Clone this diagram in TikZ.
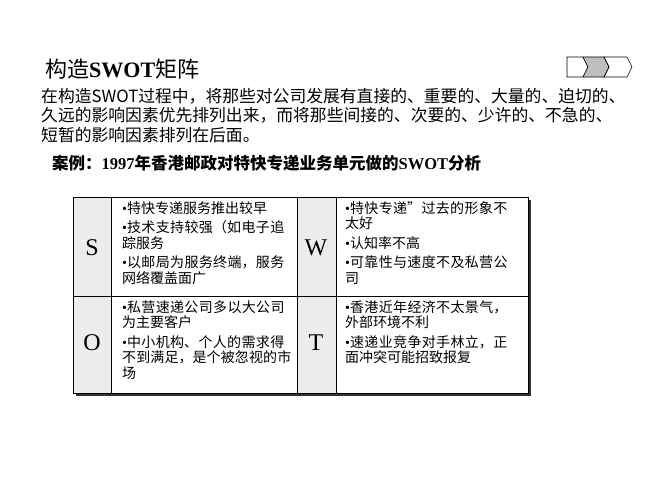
\documentclass[tikz,border=0pt]{standalone}
\usepackage{fontspec}
\setmainfont{Liberation Serif}
\newfontfamily\cjk{Noto Sans CJK SC}
\XeTeXlinebreaklocale "zh"
\XeTeXlinebreakskip=0pt plus 1pt
\newcommand{\bul}{\textrm{•}}
\begin{document}
\begin{tikzpicture}[x=1pt,y=-1pt,
  lettercell/.style={draw=black,fill=gray!15,line width=0.6pt},
  textcell/.style={draw=black,fill=white,line width=0.6pt},
  bigletter/.style={font=\fontsize{24}{24}\selectfont},
  items/.style={anchor=north west,text width=172pt,align=left,font=\cjk\fontsize{14}{15.5}\selectfont,inner sep=0pt},
  chev/.style={draw=black,line width=0.6pt}]
\useasboundingbox (0,0) rectangle (667,500);
\node[anchor=west,inner sep=0pt,font=\cjk\fontsize{22}{22}\selectfont] (title) at (45,69) {构造\textrm{\textbf{SWOT}}矩阵};
\node[anchor=north west,inner sep=0pt,text width=620pt,align=left,font=\cjk\fontsize{16.8}{19.5}\selectfont] (para) at (41,88)
 {在构造SWOT过程中，将那些对公司发展有直接的、重要的、大量的、迫切的、\\久远的影响因素优先排列出来，而将那些间接的、次要的、少许的、不急的、\\短暂的影响因素排列在后面。};
\node[anchor=west,inner sep=0pt,font=\cjk\bfseries\fontsize{16.5}{16.5}\selectfont] (case) at (52,163) {案例：\textrm{\textbf{1997}}年香港邮政对特快专递业务单元做的\textrm{\textbf{SWOT}}分析};
% chevrons
\draw[chev] (567,57) -- (583,57) -- (588,67) -- (583,77) -- (567,77) -- cycle;
\draw[chev,fill=gray!50] (583,57) -- (604,57) -- (609,67) -- (604,77) -- (583,77) -- (588,67) -- cycle;
\draw[chev] (604,57) -- (627,57) -- (632,67) -- (627,77) -- (604,77) -- (609,67) -- cycle;
% shadow
\fill[black!80] (76,200) rectangle (531,396);
\draw[lettercell] (73,197) rectangle (111,296);
\draw[textcell] (111,197) rectangle (297,296);
\draw[lettercell] (297,197) rectangle (336,296);
\draw[textcell] (336,197) rectangle (528,296);
\draw[lettercell] (73,296) rectangle (111,393);
\draw[textcell] (111,296) rectangle (297,393);
\draw[lettercell] (297,296) rectangle (336,393);
\draw[textcell] (336,296) rectangle (528,393);
\node[bigletter] (S) at (92,248) {S};
\node[bigletter] (W) at (316,248) {W};
\node[bigletter] (O) at (92,343) {O};
\node[bigletter] (T) at (316,343) {T};
\node[items] (sitems) at (122,201) {\bul 特快专递服务推出较早\\[4pt]\bul 技术支持较强（如电子追踪服务\\[4pt]\bul 以邮局为服务终端，服务网络覆盖面广};
\node[items] (witems) at (345,201) {\bul 特快专递”过去的形象不太好\\[4pt]\bul 认知率不高\\[4pt]\bul 可靠性与速度不及私营公司};
\node[items] (oitems) at (122,300) {\bul 私营速递公司多以大公司为主要客户\\[4pt]\bul 中小机构、个人的需求得不到满足，是个被忽视的市场};
\node[items] (titems) at (345,300) {\bul 香港近年经济不太景气，外部环境不利\\[4pt]\bul 速递业竞争对手林立，正面冲突可能招致报复};
\end{tikzpicture}
\end{document}
